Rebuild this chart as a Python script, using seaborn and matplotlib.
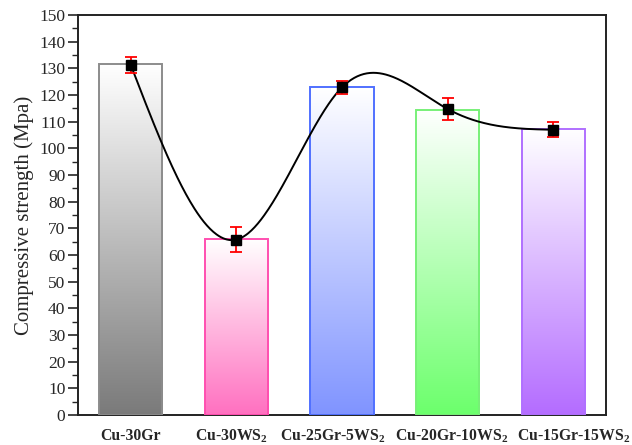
import numpy as np
import matplotlib
matplotlib.use("Agg")
import matplotlib.pyplot as plt
from matplotlib.colors import LinearSegmentedColormap
from matplotlib.ticker import MultipleLocator
import seaborn as sns

categories = ["Cu-30Gr", "Cu-30WS$_\\mathbf{2}$", "Cu-25Gr-5WS$_\\mathbf{2}$",
              "Cu-20Gr-10WS$_\\mathbf{2}$", "Cu-15Gr-15WS$_\\mathbf{2}$"]
bar_values = [131.5, 65.9, 122.9, 114.5, 107.1]
point_values = [131.3, 65.8, 122.9, 114.8, 107.0]
errors = [3.0, 4.8, 2.5, 4.0, 2.9]
edge_colors = ["#8c8c8c", "#ff4fb0", "#5070ff", "#78f078", "#b070ff"]
bottom_colors = ["#7a7a7a", "#ff70c0", "#8094ff", "#6cff6c", "#b46cff"]
label_shift = [0.0, -0.05, -0.09, 0.04, 0.19]

sns.set_style("ticks")
plt.rcParams["font.family"] = ["Liberation Serif", "DejaVu Serif"]
plt.rcParams["mathtext.fontset"] = "custom"
plt.rcParams["mathtext.rm"] = "Liberation Serif"
plt.rcParams["mathtext.bf"] = "Liberation Serif:bold"

fig = plt.figure(figsize=(6.32, 4.45), dpi=100)
ax = fig.add_axes([0.1234, 0.0674, 0.8355, 0.8986])

sns.barplot(x=list(range(len(categories))), y=bar_values, hue=list(range(len(categories))),
            palette=edge_colors, fill=False, width=0.6, legend=False, linewidth=1.4,
            ax=ax, zorder=3, errorbar=None)

# gradient fill clipped to each bar
grad = np.linspace(0, 1, 256).reshape(-1, 1)
for patch, col in zip(ax.patches, bottom_colors):
    x0, y0 = patch.get_x(), patch.get_y()
    w, h = patch.get_width(), patch.get_height()
    cmap = LinearSegmentedColormap.from_list("g", [col, "#ffffff"])
    im = ax.imshow(grad, cmap=cmap, aspect="auto", origin="lower",
                   extent=[x0, x0 + w, y0, y0 + h], zorder=2)
    im.set_clip_path(patch)

# natural cubic spline connecting the points
xs = np.arange(len(point_values), dtype=float)
ys = np.array(point_values, dtype=float)
n = len(xs)
A = np.zeros((n, n)); b = np.zeros(n)
A[0, 0] = 1; A[-1, -1] = 1
for i in range(1, n - 1):
    A[i, i - 1] = 1; A[i, i] = 4; A[i, i + 1] = 1
    b[i] = 6 * (ys[i + 1] - 2 * ys[i] + ys[i - 1])
M = np.linalg.solve(A, b)
xf = np.linspace(xs[0], xs[-1], 400)
idx = np.clip(np.floor(xf).astype(int), 0, n - 2)
t = xf - idx
yf = (M[idx] * (1 - t) ** 3 / 6 + M[idx + 1] * t ** 3 / 6
      + (ys[idx] - M[idx] / 6) * (1 - t) + (ys[idx + 1] - M[idx + 1] / 6) * t)
ax.plot(xf, yf, color="black", lw=1.4, zorder=4)

ax.errorbar(xs, ys, yerr=errors, fmt="s", color="black", ms=6.5,
            ecolor="red", elinewidth=1.3, capsize=4, capthick=1.3, zorder=5)

ax.set_xlim(-0.5, 4.5)
ax.set_ylim(0, 150)
ax.yaxis.set_major_locator(MultipleLocator(10))
ax.yaxis.set_minor_locator(MultipleLocator(5))
ax.set_xticks([i + d for i, d in enumerate(label_shift)])
ax.set_xticklabels(categories, fontsize=11.3, fontweight="bold")
ax.tick_params(axis="x", length=0, pad=9)
ax.tick_params(axis="y", which="major", length=7, width=1.2, labelsize=12.5, pad=2)
ax.tick_params(axis="y", which="minor", length=4, width=1.0)
for s in ax.spines.values():
    s.set_visible(True)
    s.set_linewidth(1.4)
    s.set_color("#222222")
ax.set_ylabel("Compressive strength (Mpa)", fontsize=15, labelpad=4)
ax.set_xlabel("")

fig.savefig("out.png", dpi=100)
